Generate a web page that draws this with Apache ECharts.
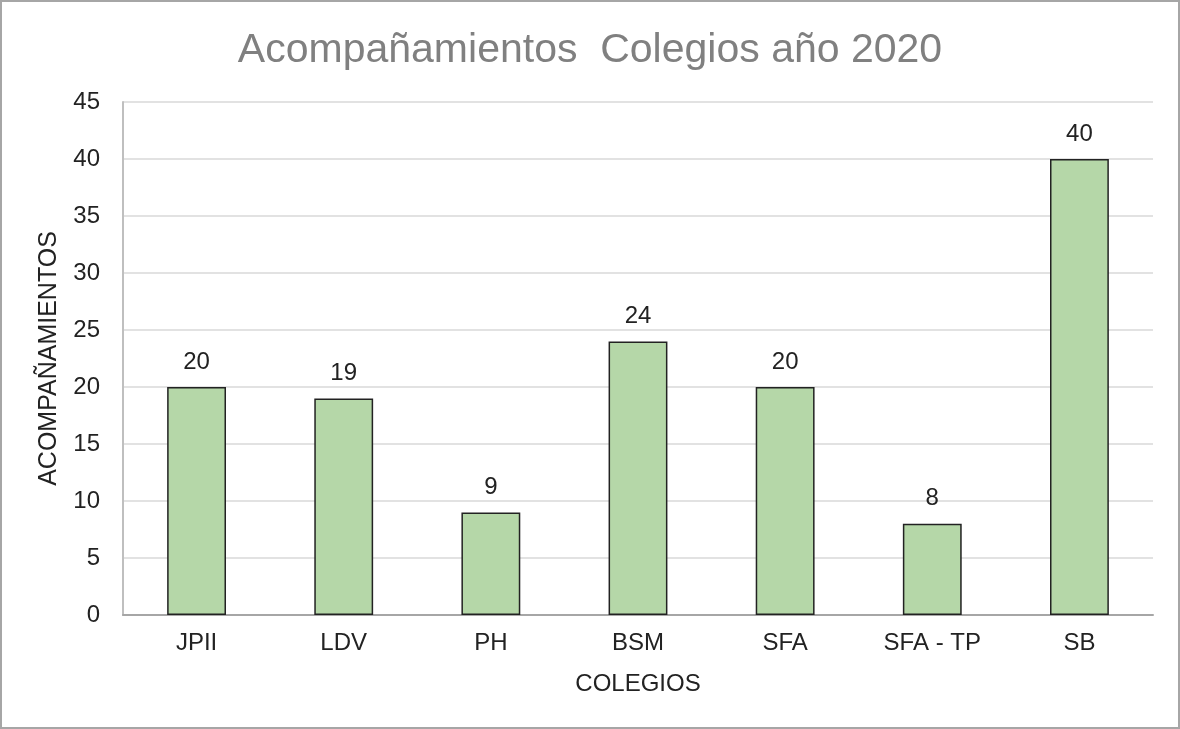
<!DOCTYPE html>
<html>
<head>
<meta charset="utf-8">
<script src="https://cdn.jsdelivr.net/npm/echarts@6/dist/echarts.min.js"></script>
<style>
  html, body { margin: 0; padding: 0; background: #fff; }
  #main { width: 1180px; height: 729px; box-sizing: border-box; border: 2px solid #a6a6a6; }
</style>
</head>
<body>
<div id="main"></div>
<script>
const colegios = ['JPII', 'LDV', 'PH', 'BSM', 'SFA', 'SFA - TP', 'SB'];
const acompanamientos = [20, 19, 9, 24, 20, 8, 40];

const chart = echarts.init(document.getElementById('main'));
chart.setOption({
  animation: false,
  textStyle: { fontFamily: 'Liberation Sans, Arial, sans-serif' },
  title: {
    text: 'Acompañamientos  Colegios año 2020',
    left: 'center',
    top: 23,
    textStyle: { color: '#808080', fontSize: 41, fontWeight: 'normal' }
  },
  grid: { left: 121, right: 25, top: 100, bottom: 112 },
  xAxis: {
    type: 'category',
    data: colegios,
    name: 'COLEGIOS',
    nameLocation: 'middle',
    nameGap: 57,
    nameTextStyle: { color: '#222', fontSize: 24 },
    axisLine: { lineStyle: { color: '#a6a6a6', width: 2 } },
    axisTick: { show: false },
    axisLabel: { color: '#222', fontSize: 24, margin: 16 }
  },
  yAxis: {
    type: 'value',
    min: 0,
    max: 45,
    interval: 5,
    name: 'ACOMPAÑAMIENTOS',
    nameLocation: 'middle',
    nameGap: 61,
    nameTextStyle: { color: '#222', fontSize: 25 },
    axisLine: { show: true, lineStyle: { color: '#bfbfbf', width: 2 } },
    axisTick: { show: false },
    axisLabel: { color: '#222', fontSize: 24, margin: 23 },
    splitLine: { lineStyle: { color: '#d9d9d9', width: 1.5 } }
  },
  series: [{
    type: 'bar',
    data: acompanamientos,
    barWidth: '40%',
    itemStyle: { color: '#b5d7a8', borderColor: '#222', borderWidth: 1.5 },
    label: { show: true, position: 'top', distance: 13, color: '#222', fontSize: 24 }
  }]
});
</script>
</body>
</html>
